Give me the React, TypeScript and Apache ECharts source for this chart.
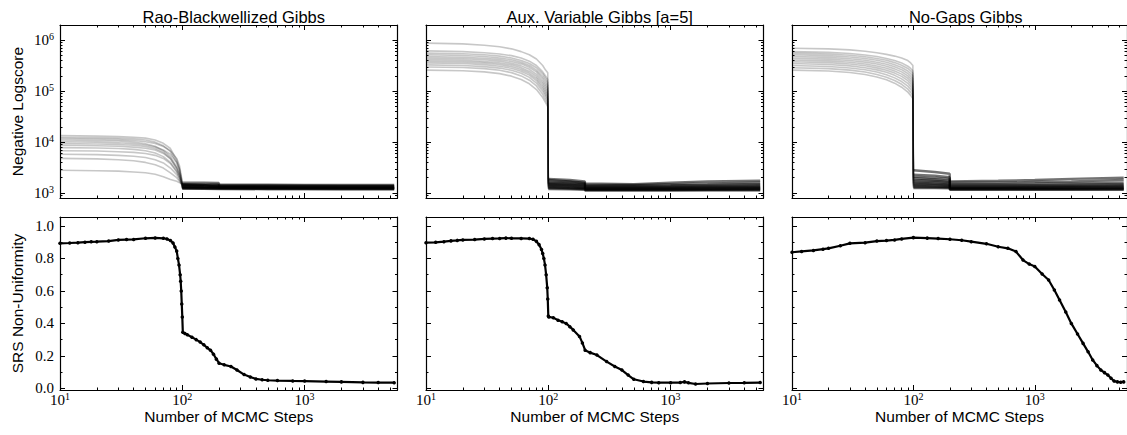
import React, { useEffect, useRef } from "react";
import * as echarts from "echarts";

const TITLES = ["Rao-Blackwellized Gibbs", "Aux. Variable Gibbs [a=5]", "No-Gaps Gibbs"];
const X_MAJOR = [10, 100, 1000];
const X_MINOR = [20, 30, 40, 50, 60, 70, 80, 90, 200, 300, 400, 500, 600, 700, 800, 900, 2000, 3000, 4000, 5000];
const LOGY_MAJOR = [1000, 10000, 100000, 1000000];
const LOGY_MINOR = [900, 2000, 3000, 4000, 5000, 6000, 7000, 8000, 9000, 20000, 30000, 40000, 50000, 60000, 70000, 80000, 90000,
  200000, 300000, 400000, 500000, 600000, 700000, 800000, 900000];
const SRS_MAJOR = [0, 0.2, 0.4, 0.6, 0.8, 1.0];
const SRS_MINOR = [0.1, 0.3, 0.5, 0.7, 0.9];

// Negative logscore traces (top row), sampled at these MCMC steps
const TOP_STEPS = [10, 20, 30, 40, 50, 60, 70, 80, 90, 95, 99, 100, 150, 199, 200, 500, 1000, 2000, 5400];

const RAO_TRACES = [
  [13500, 13200, 12900, 12500, 12000, 11000, 9500, 7500, 4500, 3000, 1700, 1500, 1480, 1470, 1470, 1460, 1450, 1450, 1440],
  [12500, 12300, 12000, 11600, 11000, 10000, 8500, 6500, 4000, 2700, 1600, 1450, 1430, 1420, 1420, 1410, 1400, 1400, 1390],
  [11800, 11500, 11200, 10800, 10200, 9400, 8200, 6800, 4800, 3400, 1900, 1420, 1400, 1390, 1390, 1380, 1380, 1370, 1370],
  [11000, 10800, 10500, 10000, 9300, 8300, 6800, 5200, 3300, 2400, 1600, 1380, 1360, 1350, 1350, 1340, 1340, 1330, 1330],
  [10200, 10000, 9700, 9300, 8800, 8000, 7000, 5800, 4000, 2900, 1800, 1350, 1330, 1320, 1320, 1310, 1300, 1300, 1290],
  [9400, 9200, 9000, 8700, 8200, 7500, 6300, 4800, 3000, 2200, 1550, 1320, 1300, 1290, 1290, 1280, 1270, 1270, 1260],
  [8700, 8500, 8300, 8000, 7600, 7000, 6000, 4700, 3100, 2300, 1600, 1290, 1270, 1260, 1260, 1250, 1250, 1240, 1240],
  [7800, 7700, 7500, 7200, 6800, 6100, 5200, 4000, 2700, 2000, 1500, 1260, 1250, 1240, 1240, 1230, 1230, 1220, 1220],
  [6800, 6700, 6500, 6300, 6000, 5500, 4800, 3800, 2600, 2000, 1500, 1240, 1230, 1220, 1220, 1210, 1210, 1200, 1200],
  [5800, 5700, 5500, 5300, 5000, 4500, 3900, 3100, 2300, 1800, 1450, 1220, 1210, 1200, 1200, 1190, 1190, 1180, 1180],
  [4800, 4700, 4500, 4300, 4000, 3600, 3100, 2500, 2000, 1700, 1500, 1600, 1600, 1580, 1300, 1290, 1280, 1280, 1270],
  [2800, 2750, 2700, 2600, 2500, 2350, 2100, 1850, 1700, 1600, 1500, 1480, 1450, 1300, 1280, 1270, 1260, 1250, 1250],
];

const AUX_TRACES = [
  [880000, 850000, 800000, 750000, 680000, 600000, 520000, 430000, 320000, 260000, 230000, 1900, 1800, 1700, 1550, 1500, 1600, 1700, 1750],
  [620000, 600000, 570000, 540000, 500000, 450000, 390000, 320000, 240000, 200000, 170000, 1800, 1700, 1600, 1450, 1450, 1500, 1550, 1600],
  [560000, 545000, 520000, 490000, 450000, 400000, 350000, 290000, 220000, 180000, 150000, 1700, 1650, 1550, 1400, 1400, 1420, 1450, 1500],
  [520000, 505000, 480000, 450000, 415000, 370000, 320000, 260000, 195000, 160000, 130000, 1600, 1550, 1500, 1350, 1350, 1370, 1400, 1420],
  [480000, 465000, 445000, 420000, 385000, 345000, 295000, 240000, 175000, 140000, 115000, 1550, 1500, 1450, 1300, 1300, 1320, 1340, 1360],
  [450000, 435000, 415000, 390000, 355000, 315000, 270000, 215000, 155000, 125000, 100000, 1500, 1450, 1400, 1270, 1270, 1280, 1300, 1310],
  [420000, 405000, 385000, 360000, 330000, 290000, 245000, 195000, 140000, 110000, 88000, 1450, 1400, 1350, 1240, 1240, 1250, 1260, 1270],
  [390000, 378000, 360000, 335000, 305000, 268000, 225000, 178000, 125000, 98000, 78000, 1400, 1350, 1300, 1210, 1210, 1220, 1230, 1240],
  [360000, 350000, 333000, 310000, 282000, 247000, 207000, 162000, 112000, 88000, 70000, 1350, 1300, 1260, 1180, 1180, 1190, 1200, 1210],
  [330000, 320000, 305000, 285000, 258000, 225000, 187000, 145000, 100000, 78000, 62000, 1300, 1250, 1220, 1160, 1160, 1165, 1170, 1180],
  [300000, 292000, 278000, 258000, 232000, 200000, 165000, 127000, 87000, 68000, 55000, 1250, 1220, 1200, 1140, 1140, 1145, 1150, 1150],
  [260000, 252000, 240000, 222000, 198000, 170000, 140000, 108000, 75000, 60000, 50000, 1200, 1180, 1160, 1120, 1120, 1120, 1130, 1130],
];

const NOGAPS_TRACES = [
  [700000, 680000, 650000, 610000, 570000, 530000, 490000, 450000, 400000, 360000, 320000, 2800, 2600, 2400, 1700, 1750, 1800, 1900, 2000],
  [600000, 580000, 550000, 515000, 480000, 440000, 400000, 360000, 310000, 280000, 250000, 2300, 2200, 2050, 1600, 1600, 1650, 1700, 1800],
  [560000, 540000, 510000, 475000, 440000, 405000, 365000, 325000, 280000, 250000, 225000, 2100, 2000, 1900, 1500, 1500, 1520, 1560, 1600],
  [520000, 500000, 470000, 440000, 405000, 370000, 332000, 293000, 250000, 222000, 198000, 1950, 1850, 1750, 1420, 1420, 1430, 1460, 1500],
  [480000, 462000, 435000, 405000, 372000, 338000, 302000, 265000, 223000, 197000, 175000, 1800, 1750, 1650, 1360, 1360, 1370, 1390, 1420],
  [445000, 428000, 402000, 373000, 342000, 310000, 275000, 240000, 200000, 176000, 155000, 1700, 1650, 1560, 1320, 1320, 1330, 1340, 1370],
  [410000, 395000, 370000, 343000, 314000, 283000, 250000, 217000, 180000, 157000, 138000, 1600, 1550, 1480, 1280, 1280, 1290, 1300, 1320],
  [380000, 365000, 342000, 316000, 288000, 258000, 227000, 196000, 161000, 140000, 122000, 1520, 1480, 1420, 1250, 1250, 1255, 1260, 1280],
  [350000, 336000, 315000, 290000, 263000, 235000, 205000, 175000, 143000, 124000, 108000, 1450, 1420, 1370, 1220, 1220, 1225, 1230, 1240],
  [320000, 307000, 287000, 264000, 238000, 211000, 183000, 155000, 126000, 109000, 95000, 1380, 1350, 1320, 1200, 1200, 1200, 1205, 1210],
  [290000, 278000, 260000, 238000, 214000, 189000, 163000, 137000, 110000, 95000, 83000, 1320, 1300, 1280, 1180, 1180, 1180, 1180, 1190],
  [260000, 250000, 233000, 213000, 191000, 168000, 144000, 120000, 96000, 83000, 72000, 1260, 1250, 1240, 1160, 1160, 1160, 1160, 1165],
];

// SRS non-uniformity (bottom row)
const RAO_SRS_STEPS = [10, 12, 14, 16, 18, 20, 25, 30, 35, 40, 50, 60, 70, 75, 80, 84, 87, 90, 92, 94, 96, 97, 98, 99,
  100, 101, 105, 110, 120, 130, 140, 150, 160, 170, 180, 190, 200, 220, 250, 280, 320, 360, 400, 450, 500, 600, 800, 1000,
  1500, 2000, 3000, 4000, 5400];
const RAO_SRS = [0.893, 0.895, 0.897, 0.900, 0.902, 0.903, 0.907, 0.914, 0.916, 0.917, 0.924, 0.926,
  0.924, 0.920, 0.910, 0.895, 0.870, 0.845, 0.80, 0.76, 0.70, 0.66, 0.60, 0.52,
  0.44, 0.345, 0.338, 0.33, 0.315, 0.30, 0.285, 0.268, 0.25, 0.235, 0.21, 0.18,
  0.155, 0.145, 0.135, 0.113, 0.085, 0.07, 0.058, 0.053, 0.05, 0.048, 0.046, 0.045,
  0.042, 0.04, 0.037, 0.036, 0.035];

const AUX_SRS_STEPS = [10, 12, 14, 16, 18, 20, 25, 30, 35, 40, 45, 50, 60, 70, 75, 80, 84, 88, 90, 92, 94, 96, 98, 99,
  100, 101, 110, 120, 130, 140, 150, 160, 180, 190, 200, 220, 250, 300, 350, 400, 450, 500, 600, 700, 800, 1000, 1200, 1300,
  1400, 1600, 2000, 3000, 4000, 5400];
const AUX_SRS = [0.897, 0.899, 0.903, 0.908, 0.911, 0.914, 0.916, 0.920, 0.922, 0.923, 0.925, 0.924,
  0.923, 0.922, 0.918, 0.905, 0.885, 0.855, 0.83, 0.80, 0.76, 0.70, 0.62, 0.55,
  0.445, 0.44, 0.435, 0.42, 0.41, 0.40, 0.38, 0.36, 0.32, 0.28, 0.235, 0.22,
  0.205, 0.165, 0.135, 0.113, 0.082, 0.056, 0.042, 0.037, 0.035, 0.035, 0.036, 0.040,
  0.034, 0.027, 0.030, 0.033, 0.034, 0.036];

const NOGAPS_SRS_STEPS = [10, 12, 15, 18, 20, 25, 30, 40, 50, 60, 70, 80, 100, 130, 160, 200, 250, 300, 400, 500, 600, 700,
  800, 900, 1000, 1150, 1300, 1450, 1600, 1800, 2000, 2250, 2500, 2750, 3000, 3250, 3500, 3750, 4000, 4250, 4500, 4800,
  5100, 5400];
const NOGAPS_SRS = [0.838, 0.843, 0.849, 0.857, 0.862, 0.878, 0.893, 0.897, 0.907, 0.910, 0.914, 0.920,
  0.928, 0.925, 0.922, 0.918, 0.912, 0.903, 0.89, 0.872, 0.862, 0.842, 0.79, 0.765,
  0.75, 0.704, 0.667, 0.606, 0.544, 0.47, 0.40, 0.335, 0.277, 0.225, 0.175, 0.14,
  0.113, 0.097, 0.082, 0.062, 0.045, 0.04, 0.038, 0.04];

const TOP_SETS = [RAO_TRACES, AUX_TRACES, NOGAPS_TRACES];
const SRS_SETS = [
  [RAO_SRS_STEPS, RAO_SRS],
  [AUX_SRS_STEPS, AUX_SRS],
  [NOGAPS_SRS_STEPS, NOGAPS_SRS],
];

const LEFTS = [60, 426, 792];
const WIDTH = 337.5;
const ROW_TOPS = [25, 217];
const HEIGHT = 173;
const X_MIN = 10;
const X_MAX = 5750;
const SPLIT_STEP = 100; // traces are drawn in two parts: burn-in and converged band

const SANS = "Liberation Sans";
const SERIF = "Liberation Serif";
const MAJOR_LEN = 5;
const MINOR_LEN = 2.5;

const powRich = {
  b: { fontFamily: SERIF, fontSize: 15, color: "#000" },
  s: { fontFamily: SERIF, fontSize: 10, color: "#000", padding: [0, 0, 8, 0] },
};
const powFmt = (v: number) => `{b|10}{s|${Math.round(Math.log10(v))}}`;

function makeAxisSet(kind: "x" | "y", grid: number, type: "log" | "value", min: number, max: number,
  major: number[], minor: number[], label: any, name: any) {
  const posA = kind === "x" ? "bottom" : "left";
  const posB = kind === "x" ? "top" : "right";
  const base = { gridIndex: grid, type, min, max, splitLine: { show: false }, logBase: 10 };
  const mk = (position: string, ticks: number[], len: number, showLine: boolean, withLabel: boolean, withName: boolean) => {
    const ax: any = {
      ...base,
      position,
      axisLine: { show: showLine, onZero: false, lineStyle: { color: "#000", width: 1.2 } },
      axisTick: { show: true, inside: true, length: len, customValues: ticks, lineStyle: { color: "#000", width: 1 } },
      axisLabel: withLabel && label ? { ...label, customValues: major } : { show: false },
    };
    if (withName && name) Object.assign(ax, name);
    return ax;
  };
  return [
    mk(posA, major, MAJOR_LEN, true, true, true),
    mk(posA, minor, MINOR_LEN, false, false, false),
    mk(posB, major, MAJOR_LEN, true, false, false),
    mk(posB, minor, MINOR_LEN, false, false, false),
  ];
}

function buildOption() {
  const grid: any[] = [];
  const xAxis: any[] = [];
  const yAxis: any[] = [];
  const series: any[] = [];
  const nameStyle = { fontFamily: SANS, fontSize: 15.5, color: "#000" };
  for (let r = 0; r < 2; r++) {
    for (let c = 0; c < 3; c++) {
      const g = r * 3 + c;
      grid.push({ left: LEFTS[c], top: ROW_TOPS[r], width: WIDTH, height: HEIGHT, containLabel: false });
      const xLabel = r === 1 ? { show: true, margin: 1, formatter: powFmt, rich: powRich } : null;
      const xName = r === 1 ? {
        name: "Number of MCMC Steps", nameLocation: "middle", nameGap: 18, nameTextStyle: nameStyle,
      } : null;
      xAxis.push(...makeAxisSet("x", g, "log", X_MIN, X_MAX, X_MAJOR, X_MINOR, xLabel, xName));
      if (r === 0) {
        const yLabel = c === 0 ? { show: true, margin: 6, formatter: powFmt, rich: powRich } : null;
        const yName = c === 0 ? {
          name: "Negative Logscore", nameLocation: "middle", nameGap: 35, nameRotate: 90, nameTextStyle: nameStyle,
        } : null;
        yAxis.push(...makeAxisSet("y", g, "log", 800, 2000000, LOGY_MAJOR, LOGY_MINOR, yLabel, yName));
        TOP_SETS[c].forEach((trace) => {
          const pts = TOP_STEPS.map((s, i) => [s, trace[i]]);
          series.push({
            type: "line", xAxisIndex: g * 4, yAxisIndex: g * 4, silent: true,
            showSymbol: false, symbol: "none",
            lineStyle: { color: "#000", width: 1.6, opacity: 0.22 },
            data: pts.filter((p) => p[0] <= SPLIT_STEP),
          });
          series.push({
            type: "line", xAxisIndex: g * 4, yAxisIndex: g * 4, silent: true,
            showSymbol: false, symbol: "none",
            lineStyle: { color: "#000", width: 2.4, opacity: 0.55 },
            data: pts.filter((p) => p[0] >= SPLIT_STEP),
          });
        });
      } else {
        const yLabel = c === 0 ? {
          show: true, margin: 6, formatter: (v: number) => v.toFixed(1),
          fontFamily: SERIF, fontSize: 15, color: "#000",
        } : null;
        const yName = c === 0 ? {
          name: "SRS Non-Uniformity", nameLocation: "middle", nameGap: 35, nameRotate: 90, nameTextStyle: nameStyle,
        } : null;
        yAxis.push(...makeAxisSet("y", g, "value", -0.01, 1.055, SRS_MAJOR, SRS_MINOR, yLabel, yName));
        const [steps, vals] = SRS_SETS[c];
        series.push({
          type: "line", xAxisIndex: g * 4, yAxisIndex: g * 4, silent: true,
          symbol: "circle", symbolSize: 3.5, showSymbol: true,
          itemStyle: { color: "#000" },
          lineStyle: { color: "#000", width: 2.2 },
          data: (steps as number[]).map((s, i) => [s, (vals as number[])[i]]),
        });
      }
    }
  }
  const title = TITLES.map((t, i) => ({
    text: t, left: LEFTS[i] + WIDTH / 2, top: 3, textAlign: "center",
    textStyle: { fontFamily: SANS, fontSize: 16.5, fontWeight: "normal", color: "#000" },
  }));
  return { animation: false, backgroundColor: "#fff", title, grid, xAxis, yAxis, series };
}

export default function App() {
  const ref = useRef<HTMLDivElement>(null);
  useEffect(() => {
    if (!ref.current) return;
    const chart = echarts.init(ref.current, null, { renderer: "svg" });
    chart.setOption(buildOption() as any);
    return () => chart.dispose();
  }, []);
  return <div ref={ref} style={{ position: "absolute", left: 0, top: 0, width: 1127, height: 435 }} />;
}
